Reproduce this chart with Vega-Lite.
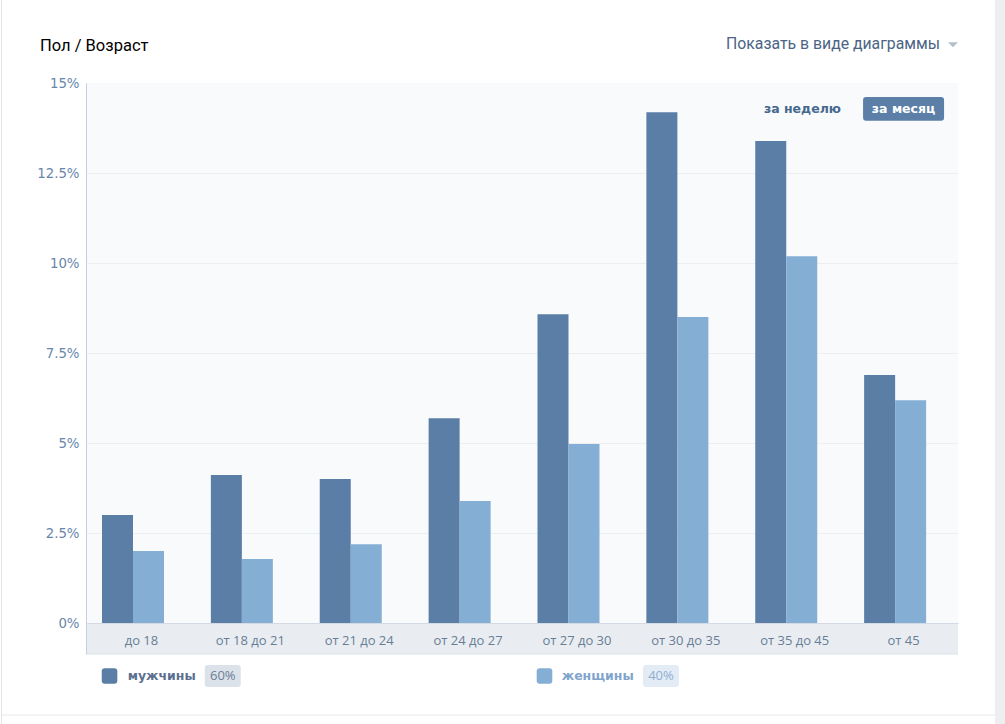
{
  "$schema": "https://vega.github.io/schema/vega-lite/v6.json",
  "width": 871,
  "height": 571,
  "autosize": {"type": "none"},
  "padding": {"left": 87, "top": 83, "right": 47, "bottom": 70},
  "background": "white",
  "config": {"view": {"fill": "#f9fafb", "stroke": null}},
  "datasets": {
    "bars": [
      {"age": "до 18", "sex": "мужчины", "value": 3.0},
      {"age": "до 18", "sex": "женщины", "value": 2.0},
      {"age": "от 18 до 21", "sex": "мужчины", "value": 4.11},
      {"age": "от 18 до 21", "sex": "женщины", "value": 1.78},
      {"age": "от 21 до 24", "sex": "мужчины", "value": 4.0},
      {"age": "от 21 до 24", "sex": "женщины", "value": 2.19},
      {"age": "от 24 до 27", "sex": "мужчины", "value": 5.69},
      {"age": "от 24 до 27", "sex": "женщины", "value": 3.39},
      {"age": "от 27 до 30", "sex": "мужчины", "value": 8.58},
      {"age": "от 27 до 30", "sex": "женщины", "value": 4.97},
      {"age": "от 30 до 35", "sex": "мужчины", "value": 14.19},
      {"age": "от 30 до 35", "sex": "женщины", "value": 8.5},
      {"age": "от 35 до 45", "sex": "мужчины", "value": 13.39},
      {"age": "от 35 до 45", "sex": "женщины", "value": 10.19},
      {"age": "от 45", "sex": "мужчины", "value": 6.89},
      {"age": "от 45", "sex": "женщины", "value": 6.19}
    ],
    "one": [{"k": 1}]
  },
  "layer": [
    {
      "data": {"name": "bars"},
      "mark": {"type": "bar"},
      "encoding": {
        "x": {"field": "age", "type": "nominal", "sort": null,
          "scale": {"domain": ["до 18", "от 18 до 21", "от 21 до 24", "от 24 до 27", "от 27 до 30", "от 30 до 35", "от 35 до 45", "от 45"], "paddingInner": 0, "paddingOuter": 0},
          "axis": {"title": null, "orient": "bottom", "offset": -31, "bandPosition": 0.5, "domain": true, "domainColor": "#d3dae3", "ticks": false, "labelAngle": 0, "labelPadding": 21, "labelBaseline": "alphabetic", "labelFont": "Open Sans", "labelFontSize": 13, "labelColor": "#687d96", "zindex": 1, "grid": false}},
        "y": {"field": "value", "type": "quantitative",
          "scale": {"domain": [-0.86, 15], "nice": false, "zero": false},
          "axis": {"title": null, "values": [0, 2.5, 5, 7.5, 10, 12.5, 15], "labelExpr": "datum.value + '%'", "offset": 1, "ticks": false, "domainColor": "#c5cfdb", "labelPadding": 7, "labelFont": "DejaVu Sans", "labelFontSize": 13.3, "labelColor": "#6886ab", "grid": true, "gridColor": {"condition": {"test": "datum.value === 15", "value": "transparent"}, "value": "#eceff2"}, "zindex": 0}},
        "xOffset": {"field": "sex", "type": "nominal", "scale": {"domain": ["мужчины", "женщины"], "paddingInner": 0, "paddingOuter": 0.756, "align": 0.32}},
        "color": {"field": "sex", "type": "nominal", "scale": {"domain": ["мужчины", "женщины"], "range": ["#5a7ea6", "#84aed3"]}, "legend": null}
      }
    },
    {
      "data": {"name": "one"},
      "mark": {"type": "rect", "color": "#edeef0", "clip": false},
      "encoding": {"x": {"datum": "от 45", "type": "nominal", "bandPosition": 1.34}, "x2": {"datum": "от 45", "bandPosition": 1.6}, "y": {"datum": 17.4, "type": "quantitative"}, "y2": {"datum": -2.9}}
    },
    {
      "data": {"name": "one"},
      "mark": {"type": "rule", "color": "#e4e6ea", "strokeWidth": 1},
      "encoding": {"x": {"datum": "до 18", "type": "nominal", "bandPosition": -0.785}, "y": {"datum": 17.4, "type": "quantitative"}, "y2": {"datum": -2.9}}
    },
    {
      "data": {"name": "one"},
      "mark": {"type": "rule", "color": "#e7e8ec", "strokeWidth": 1},
      "encoding": {"x": {"datum": "до 18", "type": "nominal", "bandPosition": -0.785}, "x2": {"datum": "от 45", "bandPosition": 1.34}, "y": {"datum": -2.556, "type": "quantitative"}}
    },
    {
      "data": {"name": "one"},
      "mark": {"type": "rect", "color": "#e9edf1"},
      "encoding": {"y": {"datum": -0.86, "type": "quantitative"}, "y2": {"datum": 0}}
    },
    {
      "data": {"name": "one"},
      "mark": {"type": "rule", "color": "#dde3e9", "strokeWidth": 1},
      "encoding": {"y": {"datum": -0.86, "type": "quantitative"}}
    },
    {
      "data": {"name": "one"},
      "mark": {"type": "text", "align": "left", "baseline": "middle", "dx": -47, "font": "Roboto", "fontSize": 16.5, "color": "#000000"},
      "encoding": {"x": {"datum": "до 18", "type": "nominal", "bandPosition": 0}, "y": {"datum": 16.03, "type": "quantitative"}, "text": {"value": "Пол / Возраст"}}
    },
    {
      "data": {"name": "one"},
      "mark": {"type": "text", "align": "right", "baseline": "middle", "dx": -18, "font": "Roboto", "fontSize": 15.8, "color": "#4b6485"},
      "encoding": {"x": {"datum": "от 45", "type": "nominal", "bandPosition": 1}, "y": {"datum": 16.08, "type": "quantitative"}, "text": {"value": "Показать в виде диаграммы"}}
    },
    {
      "data": {"name": "one"},
      "mark": {"type": "point", "shape": "M -1 -0.5 L 1 -0.5 L 0 0.5 Z", "filled": true, "size": 100, "color": "#b4c0cd", "opacity": 1},
      "encoding": {"x": {"datum": "от 45", "type": "nominal", "bandPosition": 0.954}, "y": {"datum": 16.06, "type": "quantitative"}}
    },
    {
      "data": {"name": "one"},
      "mark": {"type": "point", "shape": "M -0.927 -0.293 L 0.927 -0.293 Q 1 -0.293 1 -0.22 L 1 0.22 Q 1 0.293 0.927 0.293 L -0.927 0.293 Q -1 0.293 -1 0.22 L -1 -0.22 Q -1 -0.293 -0.927 -0.293 Z", "filled": true, "size": 6561, "color": "#5b7fa7", "opacity": 1},
      "encoding": {"x": {"datum": "от 45", "type": "nominal", "bandPosition": 0.5}, "y": {"datum": 14.28, "type": "quantitative"}}
    },
    {
      "data": {"name": "one"},
      "mark": {"type": "text", "align": "center", "baseline": "middle", "font": "DejaVu Sans", "fontWeight": "bold", "fontSize": 12.5, "color": "#ffffff"},
      "encoding": {"x": {"datum": "от 45", "type": "nominal", "bandPosition": 0.5}, "y": {"datum": 14.28, "type": "quantitative"}, "text": {"value": "за месяц"}}
    },
    {
      "data": {"name": "one"},
      "mark": {"type": "text", "align": "center", "baseline": "middle", "font": "DejaVu Sans", "fontWeight": "bold", "fontSize": 12.5, "color": "#45688e"},
      "encoding": {"x": {"datum": "от 35 до 45", "type": "nominal", "bandPosition": 0.571}, "y": {"datum": 14.28, "type": "quantitative"}, "text": {"value": "за неделю"}}
    },
    {
      "data": {"name": "one"},
      "mark": {"type": "point", "shape": "M -0.615 -1 L 0.615 -1 Q 1 -1 1 -0.615 L 1 0.615 Q 1 1 0.615 1 L -0.615 1 Q -1 1 -1 0.615 L -1 -0.615 Q -1 -1 -0.615 -1 Z", "filled": true, "size": 243, "color": "#5a7ea6", "opacity": 1},
      "encoding": {"x": {"datum": "до 18", "type": "nominal", "bandPosition": 0.207}, "y": {"datum": -1.472, "type": "quantitative"}}
    },
    {
      "data": {"name": "one"},
      "mark": {"type": "point", "shape": "M -0.615 -1 L 0.615 -1 Q 1 -1 1 -0.615 L 1 0.615 Q 1 1 0.615 1 L -0.615 1 Q -1 1 -1 0.615 L -1 -0.615 Q -1 -1 -0.615 -1 Z", "filled": true, "size": 243, "color": "#84aed3", "opacity": 1},
      "encoding": {"x": {"datum": "от 27 до 30", "type": "nominal", "bandPosition": 0.202}, "y": {"datum": -1.472, "type": "quantitative"}}
    },
    {
      "data": {"name": "one"},
      "mark": {"type": "text", "align": "left", "baseline": "middle", "font": "DejaVu Sans", "fontWeight": "bold", "fontSize": 12.5, "color": "#5b7090"},
      "encoding": {"x": {"datum": "до 18", "type": "nominal", "bandPosition": 0.374}, "y": {"datum": -1.472, "type": "quantitative"}, "text": {"value": "мужчины"}}
    },
    {
      "data": {"name": "one"},
      "mark": {"type": "text", "align": "left", "baseline": "middle", "font": "DejaVu Sans", "fontWeight": "bold", "fontSize": 12.5, "color": "#7fa5cc"},
      "encoding": {"x": {"datum": "от 27 до 30", "type": "nominal", "bandPosition": 0.36}, "y": {"datum": -1.472, "type": "quantitative"}, "text": {"value": "женщины"}}
    },
    {
      "data": {"name": "one"},
      "mark": {"type": "point", "shape": "M -0.833 -0.611 L 0.833 -0.611 Q 1 -0.611 1 -0.444 L 1 0.444 Q 1 0.611 0.833 0.611 L -0.833 0.611 Q -1 0.611 -1 0.444 L -1 -0.444 Q -1 -0.611 -0.833 -0.611 Z", "filled": true, "size": 1296, "color": "#dbe2ea", "opacity": 1},
      "encoding": {"x": {"datum": "от 18 до 21", "type": "nominal", "bandPosition": 0.247}, "y": {"datum": -1.472, "type": "quantitative"}}
    },
    {
      "data": {"name": "one"},
      "mark": {"type": "point", "shape": "M -0.833 -0.611 L 0.833 -0.611 Q 1 -0.611 1 -0.444 L 1 0.444 Q 1 0.611 0.833 0.611 L -0.833 0.611 Q -1 0.611 -1 0.444 L -1 -0.444 Q -1 -0.611 -0.833 -0.611 Z", "filled": true, "size": 1296, "color": "#e3ecf5", "opacity": 1},
      "encoding": {"x": {"datum": "от 30 до 35", "type": "nominal", "bandPosition": 0.272}, "y": {"datum": -1.472, "type": "quantitative"}}
    },
    {
      "data": {"name": "one"},
      "mark": {"type": "text", "align": "center", "baseline": "middle", "font": "Open Sans", "fontSize": 13, "color": "#6b7d93"},
      "encoding": {"x": {"datum": "от 18 до 21", "type": "nominal", "bandPosition": 0.247}, "y": {"datum": -1.472, "type": "quantitative"}, "text": {"value": "60%"}}
    },
    {
      "data": {"name": "one"},
      "mark": {"type": "text", "align": "center", "baseline": "middle", "font": "Open Sans", "fontSize": 13, "color": "#8cafd2"},
      "encoding": {"x": {"datum": "от 30 до 35", "type": "nominal", "bandPosition": 0.272}, "y": {"datum": -1.472, "type": "quantitative"}, "text": {"value": "40%"}}
    }
  ]
}
